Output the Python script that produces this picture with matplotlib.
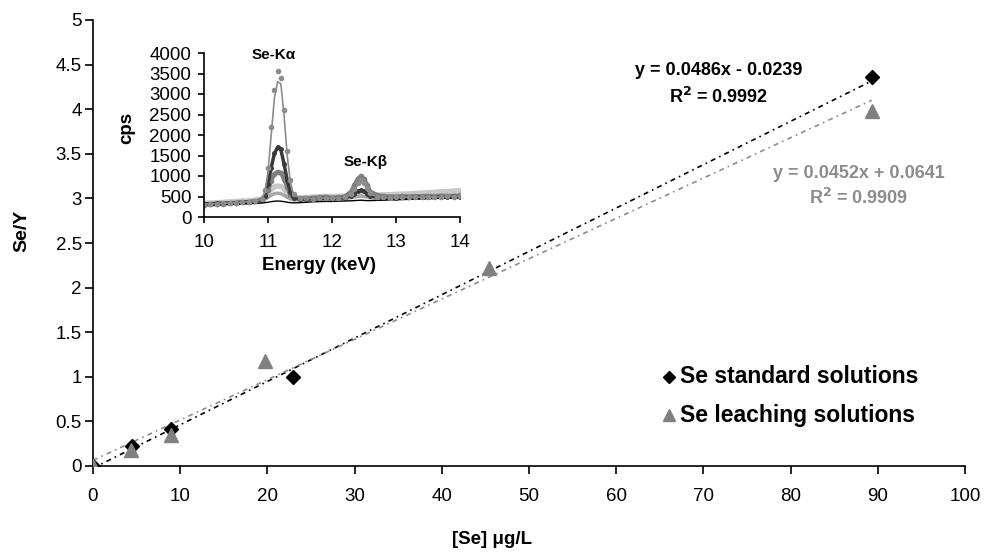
import matplotlib
matplotlib.use('Agg')
import matplotlib.pyplot as plt
import numpy as np

plt.rcParams['font.family'] = ['Liberation Sans', 'DejaVu Sans']

# calibration data
std_x = [0, 4.5, 9, 22.9, 89.3]
std_y = [0, 0.22, 0.42, 1.0, 4.36]
leach_x = [0, 4.4, 9, 19.7, 45.4, 89.3]
leach_y = [0, 0.18, 0.35, 1.18, 2.22, 3.98]

std_fit = (0.0486, -0.0239, 0.9992)
leach_fit = (0.0452, 0.0641, 0.9909)

# XRF spectra for the inset
energy = [10.0, 10.1, 10.2, 10.3, 10.4, 10.5, 10.6, 10.7, 10.8, 10.9,
          10.95, 11.0, 11.05, 11.1, 11.15, 11.2, 11.25, 11.3, 11.35, 11.4,
          11.5, 11.6, 11.7, 11.8, 11.9, 12.0, 12.1, 12.2, 12.3,
          12.35, 12.4, 12.45, 12.5, 12.55, 12.6,
          12.7, 12.8, 12.9, 13.0, 13.1, 13.2, 13.3, 13.4, 13.5, 13.6, 13.7, 13.8, 13.9, 14.0]
spec_1 = [300, 310, 320, 330, 340, 350, 360, 370, 390, 440,
          650, 1200, 2200, 3100, 3550, 3400, 2600, 1600, 900, 560,
          470, 460, 450, 460, 470, 460, 470, 490, 560,
          680, 820, 900, 840, 700, 580,
          500, 480, 470, 480, 480, 490, 480, 490, 500, 490, 500, 510, 500, 510]
spec_2 = [310, 315, 325, 335, 345, 355, 365, 375, 395, 430,
          600, 1100, 2000, 2900, 3300, 3250, 2500, 1500, 850, 540,
          470, 460, 455, 460, 465, 460, 470, 485, 540,
          650, 780, 860, 800, 680, 560,
          500, 485, 475, 480, 485, 490, 485, 490, 500, 495, 500, 505, 505, 510]
spec_3 = [320, 325, 330, 335, 340, 350, 360, 370, 385, 420,
          520, 800, 1200, 1550, 1700, 1650, 1300, 900, 600, 470,
          440, 440, 445, 450, 455, 450, 460, 470, 510,
          570, 630, 650, 630, 570, 520,
          480, 470, 470, 475, 480, 480, 485, 480, 490, 490, 495, 495, 500, 500]
spec_4 = [300, 305, 315, 325, 335, 345, 355, 365, 380, 410,
          480, 650, 880, 1050, 1100, 1080, 930, 720, 540, 460,
          450, 460, 470, 480, 490, 470, 480, 500, 620,
          780, 920, 1000, 930, 780, 620,
          540, 510, 500, 500, 510, 500, 510, 505, 515, 510, 520, 515, 520, 525]
spec_5 = [340, 345, 355, 365, 375, 385, 395, 405, 420, 450,
          500, 580, 680, 740, 760, 750, 680, 590, 520, 480,
          470, 480, 490, 500, 510, 505, 510, 520, 530,
          540, 555, 565, 560, 550, 540,
          540, 545, 550, 560, 565, 570, 580, 590, 600, 610, 620, 630, 640, 650]
spec_6 = [320, 325, 330, 340, 350, 355, 365, 375, 390, 410,
          440, 480, 530, 570, 580, 570, 530, 480, 440, 420,
          420, 425, 430, 440, 445, 445, 450, 455, 470,
          490, 500, 510, 500, 490, 470,
          460, 460, 465, 470, 470, 475, 475, 480, 480, 485, 490, 490, 495, 500]
spec_7 = [290, 295, 300, 305, 310, 315, 320, 325, 330, 340,
          350, 360, 375, 385, 390, 385, 375, 360, 350, 345,
          350, 360, 370, 375, 380, 380, 385, 390, 395,
          400, 405, 410, 405, 400, 400,
          405, 410, 415, 420, 425, 430, 435, 440, 445, 450, 455, 460, 460, 465]

fig = plt.figure(figsize=(9.9, 5.54), dpi=100)
ax = fig.add_axes([93/990, 1 - 466/554, 872/990, 446/554])

xs = np.array([0, 89.3])
trend_ls = (0, (3, 2.5, 1, 2.5))
ax.plot(xs, std_fit[0]*xs + std_fit[1], color='black', lw=1.2, ls=trend_ls, zorder=2)
ax.plot(xs, leach_fit[0]*xs + leach_fit[1], color='#8c8c8c', lw=1.2, ls=trend_ls, zorder=2)
ax.plot(std_x, std_y, 'D', color='black', ms=7, ls='none', zorder=3)
ax.plot(leach_x, leach_y, '^', color='#808080', ms=9.5, ls='none', zorder=3)

ax.set_xlim(0, 100)
ax.set_ylim(0, 5)
ax.set_xticks(np.arange(0, 101, 10))
ax.set_yticks(np.arange(0, 5.01, 0.5))
ax.set_yticklabels(['0', '0.5', '1', '1.5', '2', '2.5', '3', '3.5', '4', '4.5', '5'])
ax.tick_params(direction='out', length=6, width=1.2, labelsize=13.5)
ax.tick_params(axis='x', pad=10)
ax.tick_params(axis='y', pad=2)
for s in ['top', 'right']:
    ax.spines[s].set_visible(False)
for s in ['left', 'bottom']:
    ax.spines[s].set_linewidth(1.2)
ax.set_xlabel('[Se] \u03bcg/L', fontsize=13.5, fontweight='bold')
ax.set_ylabel('Se/Y', fontsize=14, fontweight='bold')
ax.xaxis.set_label_coords(0.458, -0.146)
ax.yaxis.set_label_coords(-0.072, 0.527)

ax.text(71.7, 4.43, 'y = %.4fx - %.4f' % (std_fit[0], -std_fit[1]), ha='center', va='center',
        fontsize=13, fontweight='bold', color='black')
ax.text(71.7, 4.14, 'R$^{\\mathbf{2}}$ = %.4f' % std_fit[2], ha='center', va='center',
        fontsize=13, fontweight='bold', color='black')
ax.text(87.8, 3.28, 'y = %.4fx + %.4f' % (leach_fit[0], leach_fit[1]), ha='center', va='center',
        fontsize=13, fontweight='bold', color='#8c8c8c')
ax.text(87.8, 3.0, 'R$^{\\mathbf{2}}$ = %.4f' % leach_fit[2], ha='center', va='center',
        fontsize=13, fontweight='bold', color='#8c8c8c')

# legend drawn by hand, no frame
ax.plot([66.1], [1.0], 'D', color='black', ms=6, clip_on=False)
ax.plot([66.1], [0.57], '^', color='#808080', ms=8.5, clip_on=False)
ax.text(67.3, 1.0, 'Se standard solutions', va='center', fontsize=16.5, fontweight='bold')
ax.text(67.3, 0.57, 'Se leaching solutions', va='center', fontsize=16.5, fontweight='bold')

# inset
ins = fig.add_axes([204/990, 1 - 217/554, 256/990, 164/554])
ins.plot(energy, spec_5, color='#c8c8c8', lw=3.5, marker='o', ms=2.5)
ins.plot(energy, spec_6, color='#a6a6a6', lw=2.5)
ins.plot(energy, spec_4, color='#7f7f7f', lw=3, marker='o', ms=3)
ins.plot(energy, spec_3, color='#3a3a3a', lw=2.5, marker='o', ms=2.5)
ins.plot(energy, spec_7, color='black', lw=1)
ins.plot(energy, spec_2, color='#8c8c8c', lw=1.2)
ins.plot(energy, spec_1, color='#8c8c8c', lw=0, marker='o', ms=3)
ins.set_xlim(10, 14)
ins.set_ylim(0, 4000)
ins.set_xticks([10, 11, 12, 13, 14])
ins.set_yticks(np.arange(0, 4001, 500))
ins.tick_params(direction='out', length=4, width=1.2, labelsize=13.5)
ins.tick_params(axis='x', pad=8)
ins.tick_params(axis='y', pad=5)
for s in ['top', 'right']:
    ins.spines[s].set_visible(False)
for s in ['left', 'bottom']:
    ins.spines[s].set_linewidth(1.2)
ins.patch.set_alpha(0)
ins.set_xlabel('Energy (keV)', fontsize=13.5, fontweight='bold')
ins.set_ylabel('cps', fontsize=13.5, fontweight='bold')
ins.xaxis.set_label_coords(0.451, -0.245)
ins.yaxis.set_label_coords(-0.27, 0.543)
ins.text(11.09, 3950, 'Se-K\u03b1', ha='center', va='center', fontsize=11, fontweight='bold')
ins.text(12.53, 1340, 'Se-K\u03b2', ha='center', va='center', fontsize=11, fontweight='bold')

plt.savefig('out.png', dpi=100)
